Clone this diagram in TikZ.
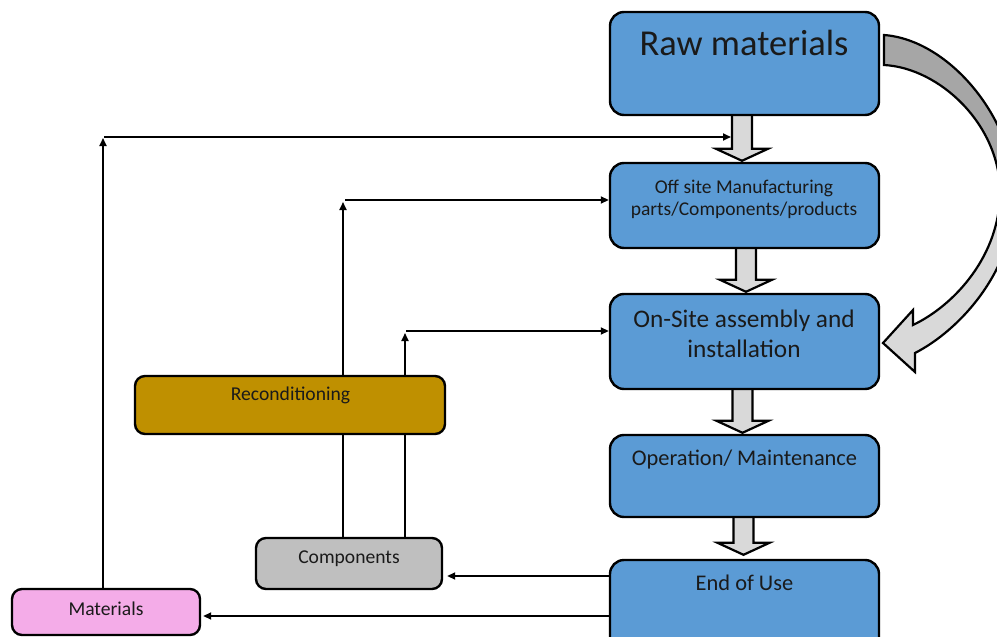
\documentclass[tikz,border=0pt]{standalone}
\usepackage{fontspec}
\setmainfont{Carlito}
\usetikzlibrary{arrows.meta,calc}
\definecolor{boxblue}{HTML}{5B9BD5}
\definecolor{goldbox}{HTML}{BF9000}
\definecolor{compgray}{HTML}{BFBFBF}
\definecolor{pinkbox}{HTML}{F4ACE8}
\definecolor{arrlight}{HTML}{D9D9D9}
\definecolor{arrdark}{HTML}{A6A6A6}
\definecolor{txt}{HTML}{1A1A1A}
\pgfdeclareverticalshading{curvesh}{100bp}{color(0bp)=(arrlight); color(48bp)=(arrlight); color(56bp)=(arrdark); color(100bp)=(arrdark)}
\newcommand{\blkarr}[4]{%
  \draw[barrow] ([xshift=#3pt-10pt]#1.south) -- ([xshift=#3pt-10pt,yshift=#4pt+12pt]#2.north)
    -- ([xshift=#3pt-26pt,yshift=#4pt+12pt]#2.north) -- ([xshift=#3pt,yshift=#4pt]#2.north)
    -- ([xshift=#3pt+26pt,yshift=#4pt+12pt]#2.north) -- ([xshift=#3pt+10pt,yshift=#4pt+12pt]#2.north)
    -- ([xshift=#3pt+10pt]#1.south);}
\begin{document}
\begin{tikzpicture}[x=1pt,y=-1pt,
  box/.style={draw=black, line width=2.4pt, rounded corners=14pt, fill=boxblue, inner sep=0pt, minimum width=269pt},
  smallbox/.style={draw=black, line width=2.4pt, rounded corners=10pt, inner sep=0pt},
  lbl/.style={text=txt, inner sep=0pt, anchor=base},
  tarrow/.style={line width=1.8pt, -{Triangle[length=8pt,width=7pt]}},
  barrow/.style={draw=black, line width=2.2pt, fill=arrlight, line join=miter}]
\useasboundingbox (0,0) rectangle (997,637);
\begin{scope}
\clip (0,0) rectangle (997,637);
% named places of the boxes
\path node[box, minimum height=103pt, draw=none, fill=none] (raw) at (744.5,63.5) {}
      node[box, minimum height=85pt, draw=none, fill=none] (off) at (744.5,205.5) {}
      node[box, minimum height=95pt, draw=none, fill=none] (onsite) at (744.5,341.5) {}
      node[box, minimum height=82pt, draw=none, fill=none] (oper) at (744.5,476) {}
      node[box, minimum height=100pt, draw=none, fill=none] (endu) at (744.5,610) {}
      node[smallbox, minimum width=310pt, minimum height=58pt, draw=none] (recon) at (290,405) {}
      node[smallbox, minimum width=186pt, minimum height=51pt, draw=none] (comp) at (349,563.5) {}
      node[smallbox, minimum width=188pt, minimum height=46pt, draw=none] (mat) at (106,612) {};
\coordinate (m1) at (103,137);
\coordinate (sh1) at (731,137);
\coordinate (c1) at (343,200);
\coordinate (c2) at (405,331);
\coordinate (e1) at (0,576);
\coordinate (e2) at (0,616);
% block arrows
\blkarr{raw}{off}{-2.5}{1}
\blkarr{off}{onsite}{1.5}{1}
\blkarr{onsite}{oper}{-2}{1}
\blkarr{oper}{endu}{-1}{4}
% thin connectors
\draw[tarrow] (mat.north -| m1) -- ([yshift=-1pt]m1);
\draw[tarrow] ([xshift=1pt]m1) -- (sh1);
\draw[tarrow] (comp.north -| c1) -- ([yshift=-2pt]c1);
\draw[tarrow] ([xshift=2pt]c1) -- (c1 -| off.west);
\draw[tarrow] (comp.north -| c2) -- ([yshift=-2pt]c2);
\draw[tarrow] ([xshift=1pt]c2) -- (c2 -| onsite.west);
\draw[tarrow] (endu.west |- e1) -- ([xshift=4pt]comp.east |- e1);
\draw[tarrow] (endu.west |- e2) -- ([xshift=2pt]mat.east |- e2);
% boxes
\node[box, minimum height=103pt] (rawb) at (raw) {};
\node[box, minimum height=85pt] (offb) at (off) {};
\node[box, minimum height=95pt] (onsiteb) at (onsite) {};
\node[box, minimum height=82pt] (operb) at (oper) {};
\node[box, minimum height=100pt] (endub) at (endu) {};
\node[smallbox, fill=goldbox, minimum width=310pt, minimum height=58pt] (reconb) at (recon) {};
\node[smallbox, fill=compgray, minimum width=186pt, minimum height=51pt] (compb) at (comp) {};
\node[smallbox, fill=pinkbox, minimum width=188pt, minimum height=46pt] (matb) at (mat) {};
% curved arrow
\draw[line width=2.2pt, line join=miter, shading=curvesh]
  (884,35) .. controls (950,40) and (1015,120) .. (1015,195)
  .. controls (1015,270) and (960,330) .. (915,353)
  -- (915,372) -- (883,343) -- (913,310) -- (913,325)
  .. controls (955,305) and (1000,255) .. (1000,192)
  .. controls (1000,125) and (940,68) .. (884,65) -- cycle;
% labels
\node[lbl, font=\fontsize{36.5}{40}\selectfont] (t1) at (744,55) {Raw materials};
\node[lbl, font=\fontsize{19.5}{23}\selectfont] (t2a) at (744,193) {Off site Manufacturing};
\node[lbl, font=\fontsize{19.5}{23}\selectfont] (t2b) at (744,215) {parts/Components/products};
\node[lbl, font=\fontsize{25.3}{29}\selectfont] (t3a) at (744,327) {On-Site assembly and};
\node[lbl, font=\fontsize{25.3}{29}\selectfont] (t3b) at (744,357) {installation};
\node[lbl, font=\fontsize{22.4}{26}\selectfont] (t4) at (744.5,465) {Operation/ Maintenance};
\node[lbl, font=\fontsize{22.4}{26}\selectfont] (t5) at (744.5,590) {End of Use};
\node[lbl, font=\fontsize{19.6}{23}\selectfont] (t6) at (290.5,400.5) {Reconditioning};
\node[lbl, font=\fontsize{19.6}{23}\selectfont] (t7) at (349,563) {Components};
\node[lbl, font=\fontsize{19.6}{23}\selectfont] (t8) at (106,615) {Materials};
\end{scope}
\end{tikzpicture}
\end{document}
